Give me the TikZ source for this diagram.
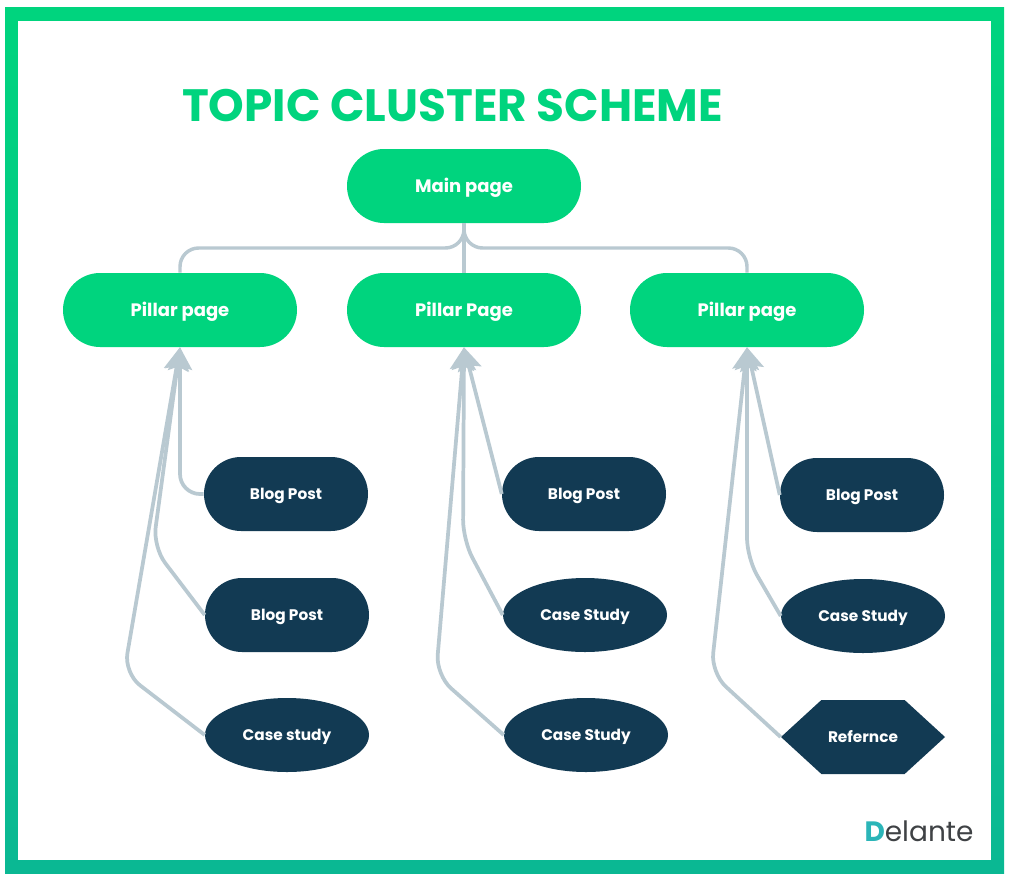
\documentclass[tikz,border=0pt]{standalone}
\usepackage{fontspec}
\setmainfont{Poppins}
\usetikzlibrary{arrows.meta,shapes.misc,shapes.geometric,shapes.symbols}
\definecolor{topicgreen}{HTML}{00D47E}
\definecolor{framegreen}{HTML}{0AB893}
\definecolor{postblue}{HTML}{123A53}
\definecolor{linkgray}{HTML}{B9C9D1}
\definecolor{logoteal}{HTML}{2BB5B8}
\definecolor{logogray}{HTML}{3F4245}
\tikzset{
  greenbox/.style={rounded rectangle,fill=topicgreen,text=white,font=\bfseries\fontsize{13.5}{16}\selectfont,text height=9.6pt,text depth=0pt,minimum width=175.5pt,minimum height=55.5pt,inner sep=0pt},
  darktext/.style={fill=postblue,text=white,font=\bfseries\fontsize{11.5}{13}\selectfont,text height=8.2pt,text depth=0pt,inner sep=0pt},
  postbox/.style={darktext,rounded rectangle,minimum width=123pt,minimum height=55.5pt},
  casebox/.style={darktext,ellipse,minimum width=123pt,minimum height=55.5pt},
  refbox/.style={darktext,signal,signal to=west and east,signal pointer angle=85,minimum width=123pt,minimum height=55.5pt},
  toplink/.style={draw=linkgray,line width=2.6pt,rounded corners=14pt},
  uplink/.style={draw=linkgray,line width=2.8pt,rounded corners=15pt,-{Stealth[inset=3pt,length=17pt,width=18pt]}}
}
\begin{document}
\begin{tikzpicture}[x=0.75pt,y=-0.75pt]
  \useasboundingbox (0,0) rectangle (1012,881);
  \shade[top color=topicgreen,bottom color=framegreen] (5,8) rectangle (1004,873);
  \fill[white] (18,21) rectangle (991,860);

  \node [text=topicgreen,font=\bfseries\fontsize{34}{40}\selectfont,inner sep=0pt] (title) at (452.5,106) {TOPIC CLUSTER SCHEME};

  \node [greenbox] (main) at (464,186) {Main page};
  \node [greenbox] (pillarA) at (180,310) {Pillar page};
  \node [greenbox] (pillarB) at (464,310) {Pillar Page};
  \node [greenbox] (pillarC) at (747,310) {Pillar page};

  \node [postbox] (blogA) at (286,494) {Blog Post};
  \node [postbox] (blogB) at (287,615) {Blog Post};
  \node [casebox] (caseA) at (287,735) {Case study};
  \node [postbox] (blogC) at (584,494) {Blog Post};
  \node [casebox] (caseB) at (585,615) {Case Study};
  \node [casebox] (caseC) at (586,735) {Case Study};
  \node [postbox] (blogD) at (862,495) {Blog Post};
  \node [casebox] (caseD) at (863,616) {Case Study};
  \node [refbox] (refer) at (863,737) {Refernce};

  \draw [toplink] (main.south) -- (464,248) -- (pillarA.north |- 0,248) -- (pillarA.north);
  \draw [toplink] (main.south) -- (pillarB.north);
  \draw [toplink] (main.south) -- (464,248) -- (pillarC.north |- 0,248) -- (pillarC.north);

  \draw [uplink] (blogA.west) -- (180,494) -- (pillarA.south);
  \draw [uplink] (blogB.west) -- (153,547) -- (pillarA.south);
  \draw [uplink] (caseA.west) -- (124,673) -- (pillarA.south);
  \draw [uplink] (blogC.west) -- (pillarB.south);
  \draw [uplink] (caseB.west) -- (463,540) -- (pillarB.south);
  \draw [uplink] (caseC.west) -- (436,675) -- (pillarB.south);
  \draw [uplink] (blogD.west) -- (pillarC.south);
  \draw [uplink] (caseD.west) -- (747,558) -- (pillarC.south);
  \draw [uplink] (refer.west) -- (711,673) -- (pillarC.south);

  \node [font=\fontsize{21}{24}\selectfont,text=logogray,inner sep=0pt] (logo) at (919,831) {\textcolor{logoteal}{\bfseries D}elante};
\end{tikzpicture}
\end{document}
